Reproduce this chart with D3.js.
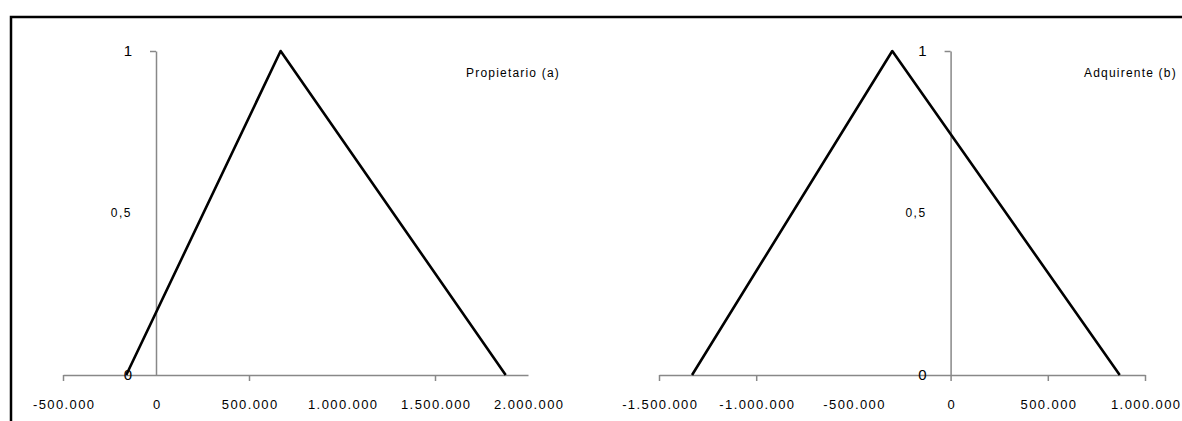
<!DOCTYPE html>
<html>
<head>
<meta charset="utf-8">
<script src="https://cdn.jsdelivr.net/npm/d3@7"></script>
<style>
  html, body { margin: 0; padding: 0; background: #fff; }
  svg { display: block; }
  text { font-family: "Liberation Sans", Arial, sans-serif; fill: #000; }
</style>
</head>
<body>
<svg id="chart" width="1182" height="421"></svg>
<script>
// ---- data ----
const seriesNames = ["Propietario (a)", "Adquirente (b)"];
const pointsA_x = [-160000, 670000, 1880000];
const pointsA_y = [0, 1, 0];
const pointsB_x = [-1330000, -300000, 870000];
const pointsB_y = [0, 1, 0];
const xDomainA = [-500000, 2000000];
const xDomainB = [-1500000, 1000000];
const xTickLabelsA = [-500000, 0, 500000, 1000000, 1500000, 2000000];
const xTickLabelsB = [-1500000, -1000000, -500000, 0, 500000, 1000000];
const xTickMarksA = [-500000, 500000, 1500000];
const xTickMarksB = [-1500000, -1000000, 0, 500000, 1000000];
const yTickLabels = [0, 0.5, 1];

// ---- setup ----
const svg = d3.select("#chart");
const loc = d3.formatLocale({decimal: ",", thousands: ".", grouping: [3], currency: ["", "€"], minus: "-"});
const fmtX = loc.format(",.0f");
const fmtY = v => v === 0.5 ? "0,5" : String(v);

const y = d3.scaleLinear().domain([0, 1]).range([375, 51]);

// frame
svg.append("path")
  .attr("d", "M11,1200 L11,17 L1300,17")
  .attr("fill", "none").attr("stroke", "#000").attr("stroke-width", 2.5);

function panel(xDomain, xRange, xs, ys, tickLabels, tickMarks, name, legendX) {
  const x = d3.scaleLinear().domain(xDomain).range(xRange);
  const g = svg.append("g");

  // x axis
  const xAxis = d3.axisBottom(x)
    .tickValues(tickLabels)
    .tickSize(6).tickSizeOuter(0).tickPadding(19)
    .tickFormat(fmtX);
  const ax = g.append("g").attr("transform", `translate(0,${y(0)})`).call(xAxis);
  ax.select(".domain").attr("stroke", "#888").attr("stroke-width", 1.5);
  ax.selectAll(".tick line")
    .attr("stroke", "#888").attr("stroke-width", 1.5)
    .attr("display", d => tickMarks.includes(d) ? null : "none");
  ax.selectAll(".tick text")
    .attr("font-size", 13).style("letter-spacing", "1.4px")
    .attr("dx", "0.7px")
    .attr("font-family", "'Liberation Sans', Arial, sans-serif");

  // y axis at x = 0
  const yAxis = d3.axisLeft(y).tickValues([1]).tickSize(6).tickSizeOuter(0).tickFormat("");
  const ay = g.append("g").attr("transform", `translate(${x(0)},0)`).call(yAxis);
  ay.select(".domain").attr("stroke", "#888").attr("stroke-width", 1.5);
  ay.selectAll(".tick line").attr("stroke", "#888").attr("stroke-width", 1.5);

  g.selectAll(".ylab").data(yTickLabels).enter().append("text")
    .attr("class", "ylab")
    .attr("x", x(0) - 24)
    .attr("y", d => y(d))
    .attr("dy", "0.36em")
    .attr("text-anchor", "end")
    .attr("font-size", d => d === 0.5 ? 12 : 15)
    .style("letter-spacing", d => d === 0.5 ? "1.5px" : "0px")
    .text(fmtY);

  // curve
  const pts = xs.map((v, i) => [v, ys[i]]);
  g.append("path")
    .datum(pts)
    .attr("fill", "none").attr("stroke", "#000").attr("stroke-width", 2.6)
    .attr("stroke-linejoin", "round")
    .attr("d", d3.line().x(d => x(d[0])).y(d => y(d[1])));

  // legend label
  g.append("text")
    .attr("x", legendX).attr("y", 73).attr("dy", "0.35em")
    .attr("font-size", 12).style("letter-spacing", "1.2px")
    .text(name);
}

panel(xDomainA, [63, 528], pointsA_x, pointsA_y, xTickLabelsA, xTickMarksA, seriesNames[0], 466);
panel(xDomainB, [659, 1145], pointsB_x, pointsB_y, xTickLabelsB, xTickMarksB, seriesNames[1], 1084);
</script>
</body>
</html>
